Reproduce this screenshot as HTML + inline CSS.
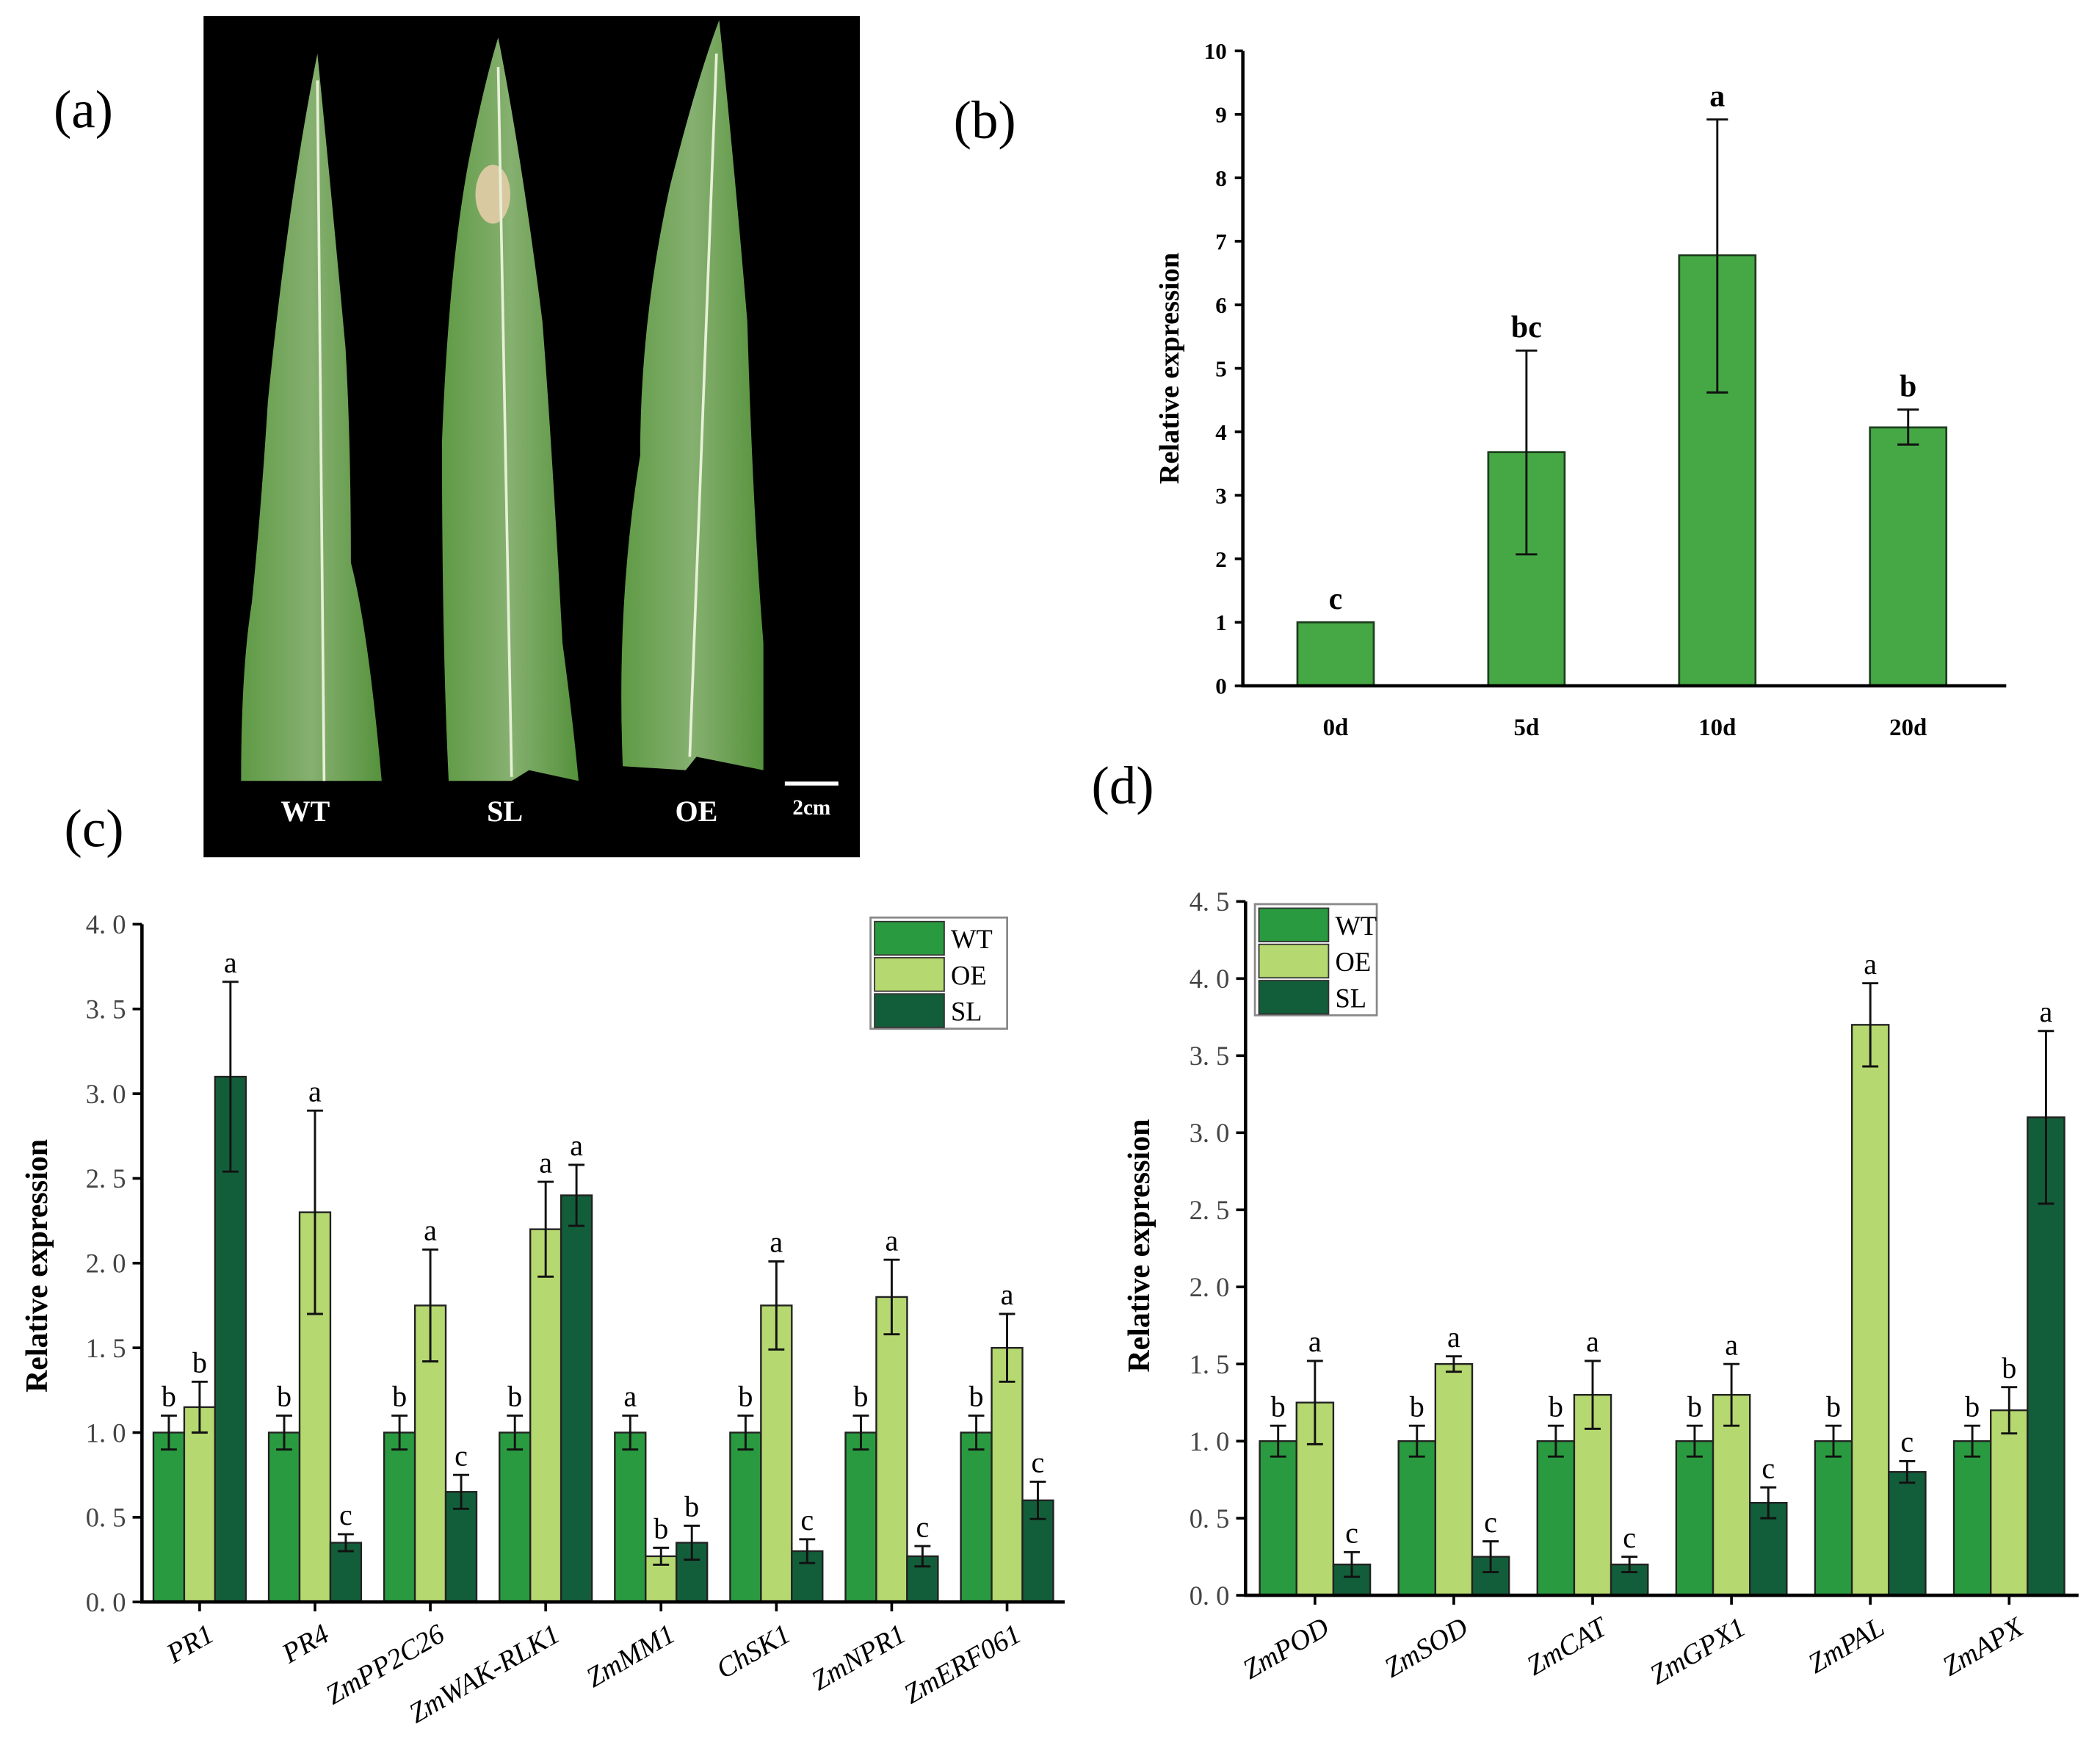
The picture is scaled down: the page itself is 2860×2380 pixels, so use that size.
<!DOCTYPE html>
<html><head><meta charset="utf-8"><style>
html,body{margin:0;padding:0;background:#fff;}
svg{display:block;}
text{font-family:"Liberation Serif",serif;}
</style></head><body>
<svg id="fig" width="2860" height="2380" viewBox="0 0 1568 1305" preserveAspectRatio="none" xmlns="http://www.w3.org/2000/svg">
<defs>
<linearGradient id="leafg" x1="0" x2="1" y1="0" y2="0">
<stop offset="0" stop-color="#5f9a45"/><stop offset="0.5" stop-color="#86b070"/><stop offset="1" stop-color="#55923c"/>
</linearGradient>
</defs>
<g>
<rect x="152" y="12" width="490" height="628" fill="#000"/>
<path d="M237,40 Q248,150 258,260 Q262,330 262,420 Q275,470 285,583 L180,583 Q180,500 188,450 Q195,380 200,300 Q215,150 237,40 Z" fill="url(#leafg)"/>
<path d="M372,28 Q390,120 405,240 Q412,330 420,480 Q428,540 432,583 L395,575 L382,583 L335,583 Q330,480 330,330 Q335,200 350,120 Q362,60 372,28 Z" fill="url(#leafg)"/>
<ellipse cx="368" cy="145" rx="13" ry="22" fill="#d9c9a0"/>
<path d="M537,15 Q548,120 558,240 Q562,380 570,480 L570,575 L520,565 L512,575 L465,572 Q460,450 478,340 Q478,240 500,140 Q520,60 537,15 Z" fill="url(#leafg)"/>
<line x1="237" y1="60" x2="242" y2="583" stroke="#e8f0d8" stroke-width="2"/>
<line x1="372" y1="50" x2="382" y2="580" stroke="#e8f0d8" stroke-width="2"/>
<line x1="535" y1="40" x2="515" y2="565" stroke="#e8f0d8" stroke-width="2"/>
<text x="228" y="613" fill="#fff" font-size="22" font-weight="bold" text-anchor="middle">WT</text>
<text x="377" y="613" fill="#fff" font-size="22" font-weight="bold" text-anchor="middle">SL</text>
<text x="520" y="613" fill="#fff" font-size="22" font-weight="bold" text-anchor="middle">OE</text>
<line x1="586" y1="585" x2="626" y2="585" stroke="#fff" stroke-width="3"/>
<text x="606" y="608" fill="#fff" font-size="16" font-weight="bold" text-anchor="middle">2cm</text>
</g>
<text x="40" y="95" font-size="40">(a)</text>
<text x="712" y="103" font-size="40">(b)</text>
<text x="48" y="632" font-size="40">(c)</text>
<text x="815" y="600" font-size="40">(d)</text>
<g id="chartB"></g>
<g id="chartC"></g>
<g id="chartD"></g>
</svg>
<script>
const NS="http://www.w3.org/2000/svg";
// Chart b data
const bCats=["0d","5d","10d","20d"];
const bVals=[1.0,3.68,6.78,4.07];
const bLo=[1.0,2.07,4.62,3.80];
const bHi=[1.0,5.28,8.92,4.35];
const bLetters=["c","bc","a","b"];
const bTicks=[0,1,2,3,4,5,6,7,8,9,10];
// Chart c data
const cCats=["PR1","PR4","ZmPP2C26","ZmWAK-RLK1","ZmMM1","ChSK1","ZmNPR1","ZmERF061"];
const cWT=[1,1,1,1,1,1,1,1];
const cWTerr=[0.1,0.1,0.1,0.1,0.1,0.1,0.1,0.1];
const cOE=[1.15,2.3,1.75,2.2,0.27,1.75,1.8,1.5];
const cOEerr=[0.15,0.6,0.33,0.28,0.05,0.26,0.22,0.2];
const cSL=[3.1,0.35,0.65,2.4,0.35,0.3,0.27,0.6];
const cSLerr=[0.56,0.05,0.1,0.18,0.1,0.07,0.06,0.11];
const cLetWT=["b","b","b","b","a","b","b","b"];
const cLetOE=["b","a","a","a","b","a","a","a"];
const cLetSL=["a","c","c","a","b","c","c","c"];
const cTicks=["0. 0","0. 5","1. 0","1. 5","2. 0","2. 5","3. 0","3. 5","4. 0"];
// Chart d data
const dCats=["ZmPOD","ZmSOD","ZmCAT","ZmGPX1","ZmPAL","ZmAPX"];
const dWT=[1,1,1,1,1,1];
const dWTerr=[0.1,0.1,0.1,0.1,0.1,0.1];
const dOE=[1.25,1.5,1.3,1.3,3.7,1.2];
const dOEerr=[0.27,0.05,0.22,0.2,0.27,0.15];
const dSL=[0.2,0.25,0.2,0.6,0.8,3.1];
const dSLerr=[0.08,0.1,0.05,0.1,0.07,0.56];
const dLetWT=["b","b","b","b","b","b"];
const dLetOE=["a","a","a","a","a","b"];
const dLetSL=["c","c","c","c","c","a"];
const dTicks=["0. 0","0. 5","1. 0","1. 5","2. 0","2. 5","3. 0","3. 5","4. 0","4. 5"];

function mk(parent,tag,attrs,txt){const e=document.createElementNS(NS,tag);for(const k in attrs)e.setAttribute(k,attrs[k]);if(txt!==undefined)e.textContent=txt;parent.appendChild(e);return e;}
function errbar(g,x,lo,hi,w){
 const e=mk(g,"path",{d:`M${x},${lo}V${hi}M${x-w},${lo}H${x+w}M${x-w},${hi}H${x+w}`,stroke:"#111","stroke-width":1.6,fill:"none"});
 
 
}
// ---- Chart B
(function(){
 const g=document.getElementById("chartB");
 const x0=928,x1=1498,y0=512,y1=38,max=10;
 const Y=v=>y0-(v/max)*(y0-y1);
 const step=(x1-x0)/4;
 const X=i=>x0+step*(i+0.5)-2;
 bTicks.forEach(t=>{
  mk(g,"line",{x1:x0-6,x2:x0,y1:Y(t),y2:Y(t),stroke:"#000","stroke-width":2});
  const tx=mk(g,"text",{x:x0-12,y:Y(t)+6,"font-size":17,"font-weight":"bold","text-anchor":"end"},t);
  
  
 });
 bCats.forEach((c,i)=>{
  const bw=57;
  const r=mk(g,"rect",{x:X(i)-bw/2,y:Y(bVals[i]),width:bw,height:y0-Y(bVals[i]),fill:"#45a845",stroke:"#1f3f1f","stroke-width":1.5});
  
  
  if(bHi[i]>bLo[i]) errbar(g,X(i),Y(bLo[i]),Y(bHi[i]),8);
  const lt=mk(g,"text",{x:X(i),y:Y(bHi[i])-10,"font-size":23,"font-weight":"bold","text-anchor":"middle"},bLetters[i]);
  
  
  const xl=mk(g,"text",{x:X(i),y:549,"font-size":18,"font-weight":"bold","text-anchor":"middle"},c);
  
  
 });
 const ax=mk(g,"path",{d:`M${x0},${y1}V${y0}H${x1}`,stroke:"#000","stroke-width":2.5,fill:"none"});
 
 
 const yt=mk(g,"text",{x:0,y:0,"font-size":21,"font-weight":"bold","text-anchor":"middle",transform:"translate(880,275) rotate(-90)"},"Relative expression");
 
 
})();
// ---- grouped charts
function grouped(id,o){
 const g=document.getElementById(id);
 const {x0,x1,y0,y1,max,cats,bw,ticks}=o;
 const Y=v=>y0-(v/max)*(y0-y1);
 const n=cats.length,step=(x1-x0-o.padR)/n;
 const C=i=>x0+o.padL+step*i+step/2;
 ticks.forEach((t,k)=>{
  const v=k*0.5;
  mk(g,"line",{x1:x0-7,x2:x0,y1:Y(v),y2:Y(v),stroke:"#000","stroke-width":2});
  const tx=mk(g,"text",{x:x0-12,y:Y(v)+7,"font-size":20,fill:"#444","text-anchor":"end","font-family":"Liberation Mono, monospace"},t);
  
  
 });
 const series=[[o.wt,o.wte,o.lw,"#2a9a40"],[o.oe,o.oee,o.lo,"#b6d870"],[o.sl,o.sle,o.ls,"#135e3a"]];
 cats.forEach((c,i)=>{
  series.forEach((s,j)=>{
   const cx=C(i)+(j-1)*bw;
   const r=mk(g,"rect",{x:cx-bw/2,y:Y(s[0][i]),width:bw,height:y0-Y(s[0][i]),fill:s[3],stroke:"#222","stroke-width":1.3});
   
   
   errbar(g,cx,Y(s[0][i]-s[1][i]),Y(s[0][i]+s[1][i]),6);
   const lt=mk(g,"text",{x:cx,y:Y(s[0][i]+s[1][i])-7,"font-size":22,"text-anchor":"middle"},s[2][i]);
   
   
  });
  mk(g,"line",{x1:C(i),x2:C(i),y1:y0,y2:y0+7,stroke:"#000","stroke-width":2});
  const xl=mk(g,"text",{x:0,y:0,"font-size":21,"font-style":"italic","text-anchor":"end",transform:`translate(${C(i)+12},${y0+28}) rotate(-30)`},c);
  
  
 });
 const ax=mk(g,"path",{d:`M${x0},${y1}V${y0}H${x1}`,stroke:"#000","stroke-width":2.5,fill:"none"});
 
 
 const yt=mk(g,"text",{x:0,y:0,"font-size":23,"font-weight":"bold","text-anchor":"middle",transform:`translate(${o.ytx},${o.yty}) rotate(-90)`},"Relative expression");
 
 
 const lg=mk(g,"g",{});
 
 
 mk(lg,"rect",{x:o.lx,y:o.ly,width:o.lwid,height:83,fill:"#fff",stroke:"#888","stroke-width":1.5});
 ["WT","OE","SL"].forEach((nm,j)=>{
  const sw=mk(lg,"rect",{x:o.lx+3,y:o.ly+3+j*27,width:52,height:25,fill:series[j][3],stroke:"#333","stroke-width":1});
  
  
  const t=mk(lg,"text",{x:o.lx+60,y:o.ly+23+j*27,"font-size":20},nm);
  
  
 });
}
grouped("chartC",{x0:106,x1:795,y0:1196,y1:690,max:4,padL:0,padR:0,cats:cCats,bw:23,ticks:cTicks,
 wt:cWT,wte:cWTerr,oe:cOE,oee:cOEerr,sl:cSL,sle:cSLerr,lw:cLetWT,lo:cLetOE,ls:cLetSL,ytx:35,yty:945,lx:650,ly:685,lwid:102});
grouped("chartD",{x0:930,x1:1552,y0:1191,y1:673,max:4.5,padL:0,padR:0,cats:dCats,bw:27.5,ticks:dTicks,
 wt:dWT,wte:dWTerr,oe:dOE,oee:dOEerr,sl:dSL,sle:dSLerr,lw:dLetWT,lo:dLetOE,ls:dLetSL,ytx:858,yty:930,lx:937,ly:675,lwid:91});
</script>
</body></html>
